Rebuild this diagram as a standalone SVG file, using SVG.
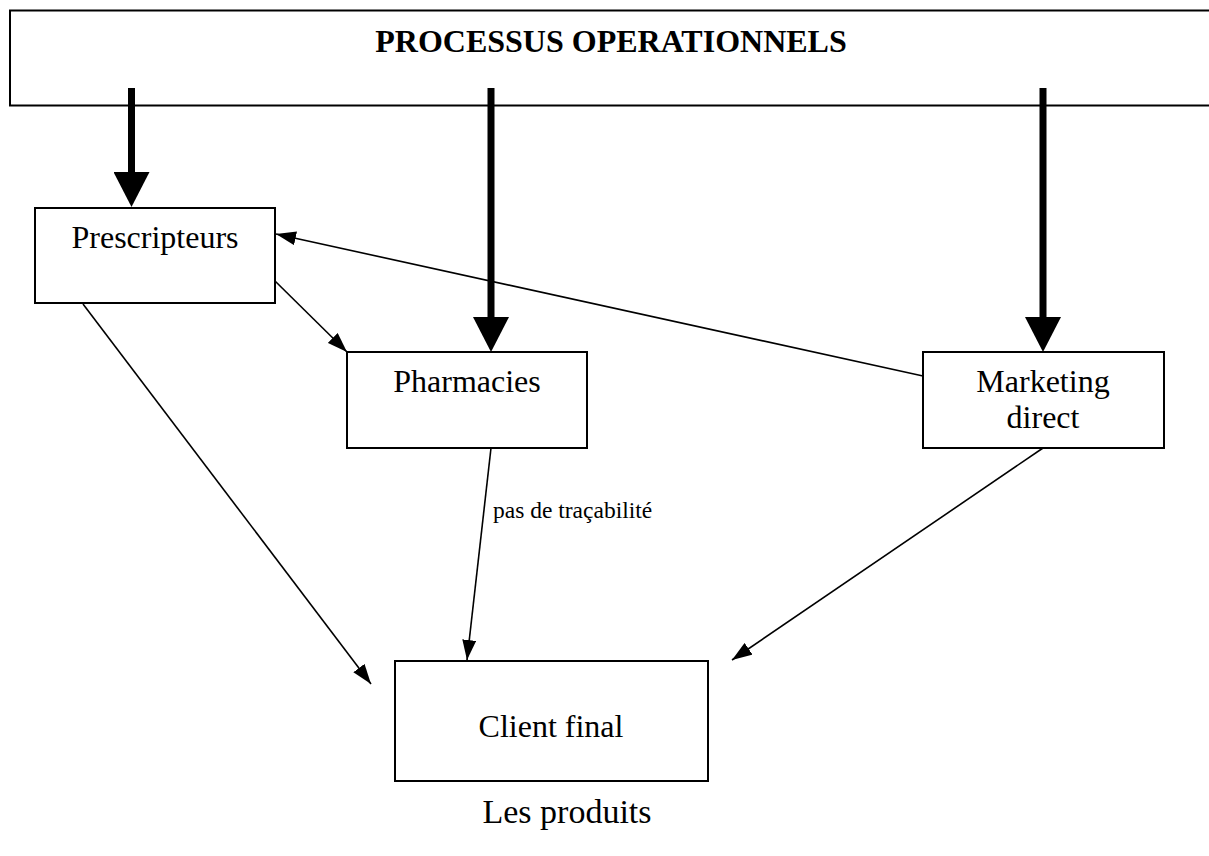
<svg xmlns="http://www.w3.org/2000/svg" width="1209" height="856" viewBox="0 0 1209 856">
  <style>
    .box { fill: #ffffff; stroke: #000000; stroke-width: 2; }
    .lbl { font-family: "Liberation Serif", "Times New Roman", serif; font-size: 32px; fill: #000000; text-anchor: middle; }
    .title { font-weight: bold; }
    .caption { font-size: 34px; }
    .small { font-family: "Liberation Serif", "Times New Roman", serif; font-size: 23.5px; fill: #000000; }
    .thin { stroke: #000000; stroke-width: 1.6; fill: none; marker-end: url(#head); }
    .thick { stroke: #000000; stroke-width: 7; fill: none; marker-end: url(#bighead); }
  </style>
  <defs>
    <marker id="head" markerUnits="userSpaceOnUse" markerWidth="20" markerHeight="14" refX="20" refY="7" orient="auto">
      <path d="M0,0 L20,7 L0,14 z" fill="#000000"/>
    </marker>
    <marker id="bighead" markerUnits="userSpaceOnUse" markerWidth="35" markerHeight="36" refX="0" refY="18" orient="auto">
      <path d="M0,0 L35,18 L0,36 z" fill="#000000"/>
    </marker>
  </defs>

  <rect width="1209" height="856" fill="#ffffff"/>

  <!-- banner of the operational processes -->
  <g id="processus">
    <rect class="box" x="10" y="10.5" width="1220" height="95"/>
    <text class="lbl title" x="611" y="52">PROCESSUS OPERATIONNELS</text>
  </g>

  <g id="prescripteurs">
    <rect class="box" x="35" y="208" width="240" height="95"/>
    <text class="lbl" x="155" y="248">Prescripteurs</text>
  </g>

  <g id="pharmacies">
    <rect class="box" x="347" y="352" width="240" height="96"/>
    <text class="lbl" x="467" y="392">Pharmacies</text>
  </g>

  <g id="marketing">
    <rect class="box" x="923" y="352" width="241" height="96"/>
    <text class="lbl" x="1043" y="392">Marketing</text>
    <text class="lbl" x="1043" y="428">direct</text>
  </g>

  <g id="client">
    <rect class="box" x="395" y="661" width="313" height="120"/>
    <text class="lbl" x="551" y="737">Client final</text>
  </g>

  <g id="connectors">
    <!-- heavy arrows from the banner -->
    <line class="thick" x1="131.5" y1="88" x2="131.5" y2="172"/>
    <line class="thick" x1="491" y1="88" x2="491" y2="317"/>
    <line class="thick" x1="1043" y1="88" x2="1043" y2="317"/>
    <!-- thin flows between actors -->
    <line class="thin" x1="923" y1="376" x2="276" y2="234"/>
    <line class="thin" x1="275" y1="281" x2="347" y2="352"/>
    <line class="thin" x1="83" y1="304" x2="371" y2="684"/>
    <line class="thin" x1="491" y1="448" x2="467" y2="660"/>
    <line class="thin" x1="1043" y1="448" x2="732" y2="660"/>
    <text class="small" x="493" y="518">pas de traçabilité</text>
  </g>

  <text class="lbl caption" x="567" y="823">Les produits</text>
</svg>
